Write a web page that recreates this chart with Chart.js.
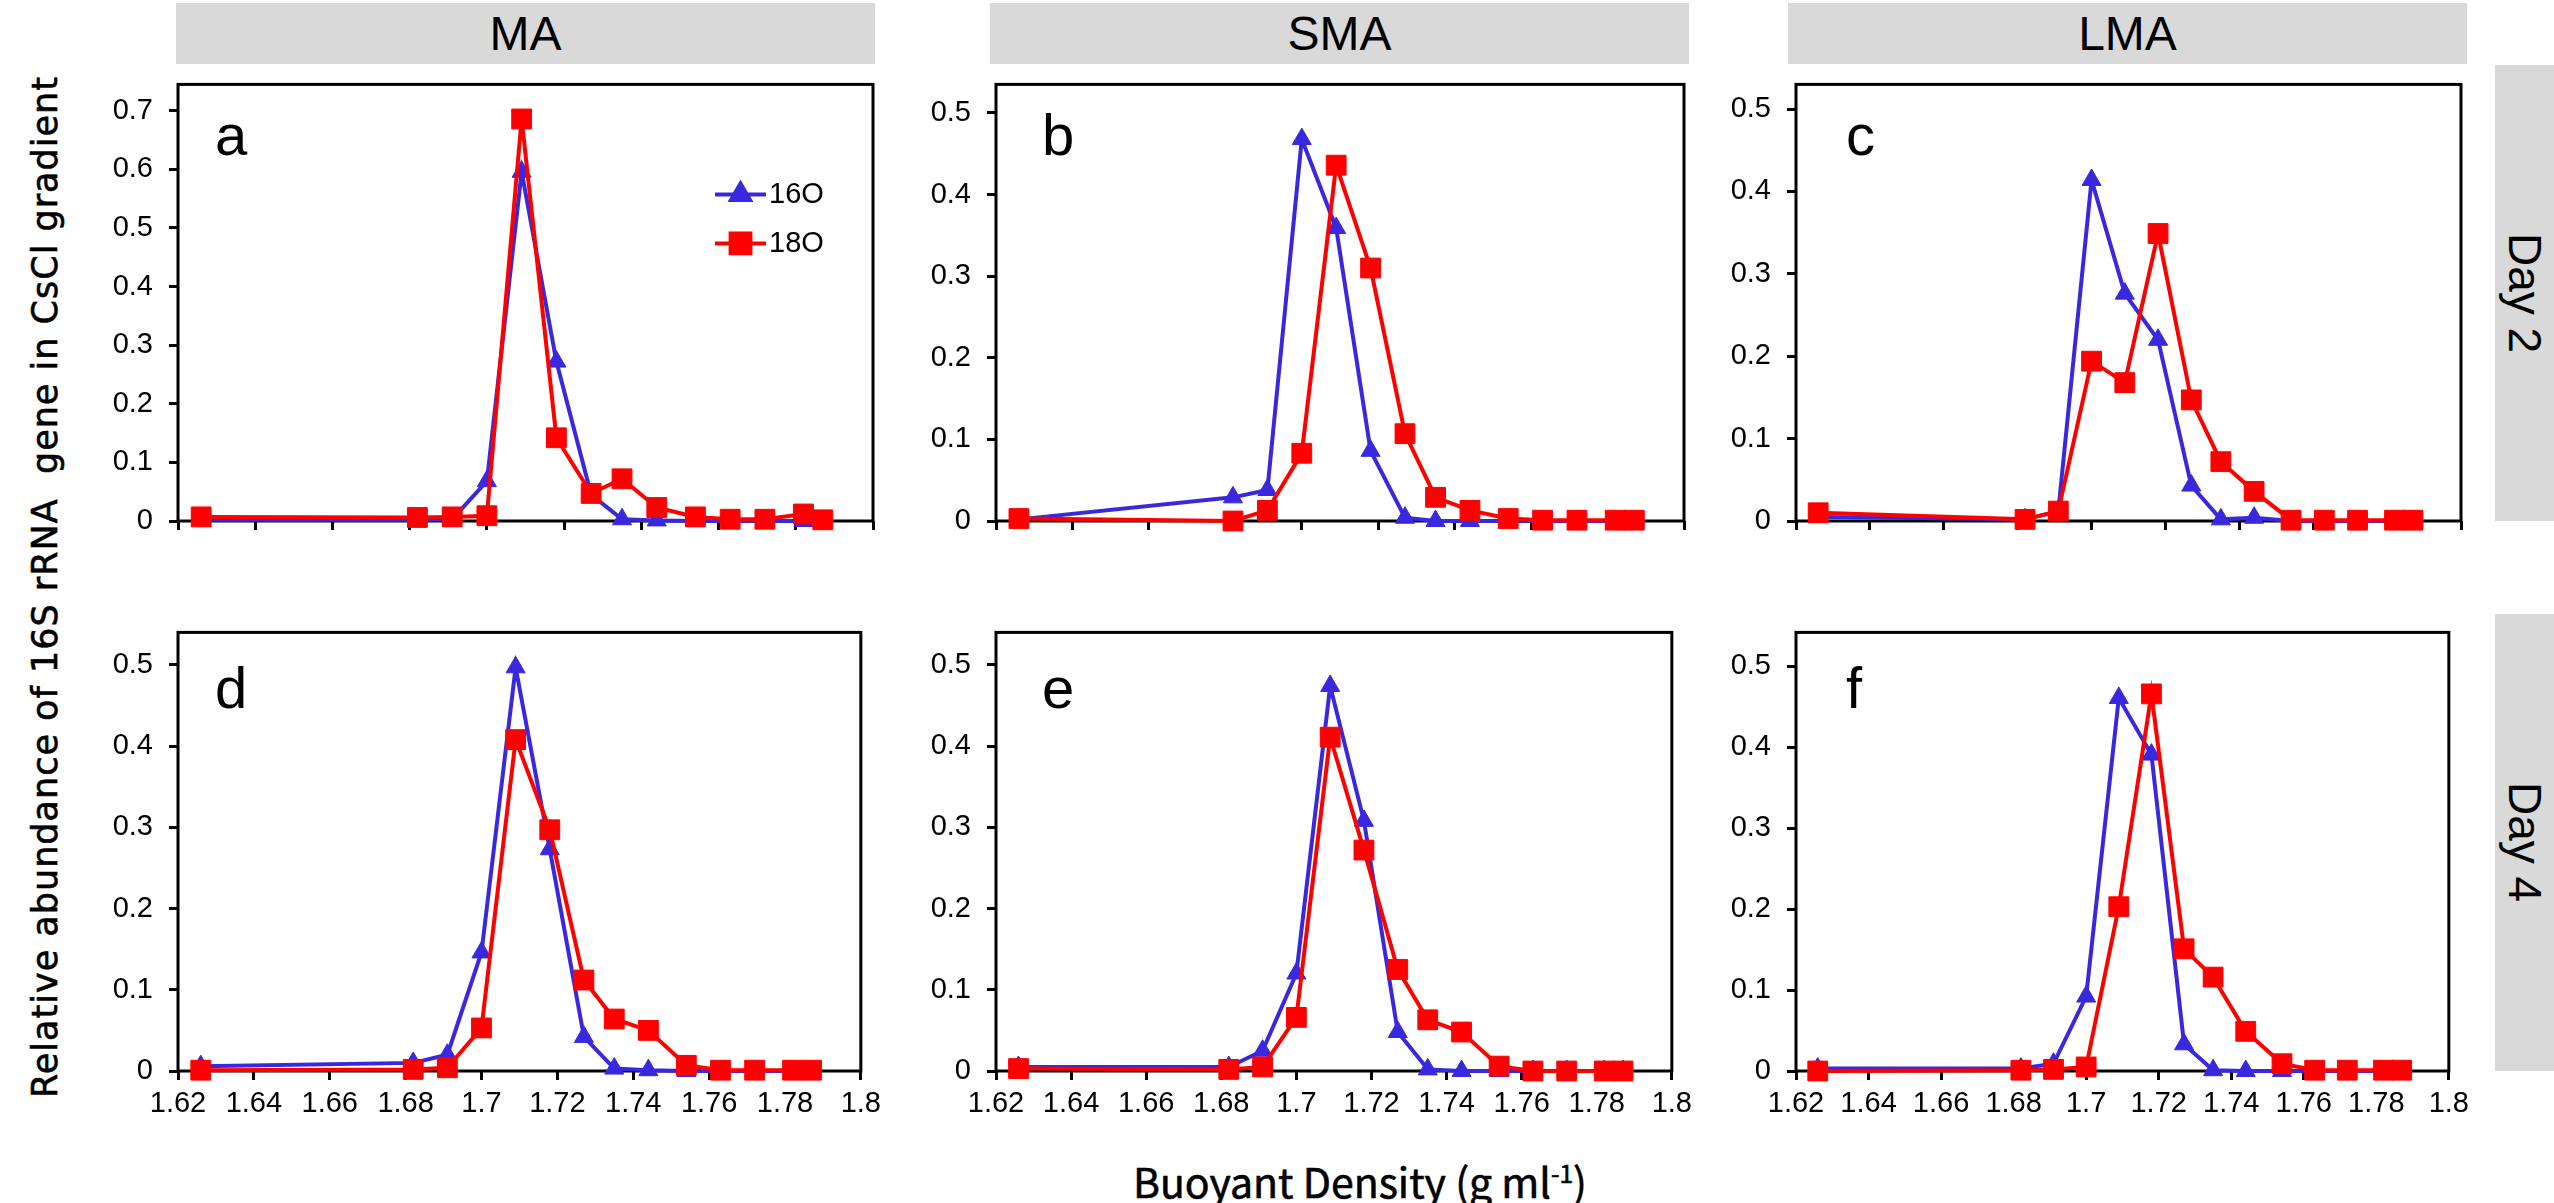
<!DOCTYPE html>
<html>
<head>
<meta charset="utf-8">
<script src="https://cdn.jsdelivr.net/npm/chart.js@4.4.1/dist/chart.umd.min.js"></script>
<style>
  body { margin: 0; background: #fff; width: 2554px; height: 1203px; position: relative; overflow: hidden; }
  canvas { position: absolute; }
  .head { position: absolute; top: 3px; height: 61px; background: #d9d9d9; display: flex; align-items: center; justify-content: center;
          font-family: "Liberation Sans", Arial, sans-serif; font-size: 48px; color: #000; }
  .day { position: absolute; left: 2495px; width: 59px; background: #d9d9d9; display: flex; align-items: center; justify-content: center;
         font-family: "Liberation Sans", Arial, sans-serif; font-size: 46px; color: #000; writing-mode: vertical-rl; }
  #ytitle { position: absolute; left: 45px; top: 587px; transform: translate(-50%, -50%) rotate(-90deg); white-space: pre;
            font-family: "DejaVu Sans", Verdana, sans-serif; font-size: 35px; letter-spacing: 1px; color: #000;
            -webkit-text-stroke: 0.6px #000; }
  #xtitle { position: absolute; left: 1360px; top: 1180px; transform: translate(-50%, -50%); white-space: pre;
            font-family: "Noto Sans CJK SC", "Noto Sans", sans-serif; font-size: 41px; color: #000;
            -webkit-text-stroke: 0.6px #000; }
  #xtitle sup { font-size: 60%; }
</style>
</head>
<body>
<div class="head" style="left:176px;width:699px">MA</div>
<div class="head" style="left:990px;width:699px">SMA</div>
<div class="head" style="left:1788px;width:679px">LMA</div>
<div class="day" style="top:65px;height:456px">Day 2</div>
<div class="day" style="top:614px;height:457px">Day 4</div>
<div id="ytitle">Relative abundance of 16S rRNA  gene in CsCl gradient</div>
<div id="xtitle">Buoyant Density (g ml<sup>-1</sup>)</div>

<script>
"use strict"

// buoyant density of each fraction (g/ml)
const densities = [1.626, 1.682, 1.691, 1.7, 1.709, 1.718, 1.727, 1.735, 1.744, 1.754, 1.763, 1.772, 1.782, 1.787];

// tick labels
const xTicks = [1.62, 1.64, 1.66, 1.68, 1.7, 1.72, 1.74, 1.76, 1.78, 1.8];
const yTicksMA2 = [0, 0.1, 0.2, 0.3, 0.4, 0.5, 0.6, 0.7];
const yTicksOther = [0, 0.1, 0.2, 0.3, 0.4, 0.5];

const seriesNames = ["16O", "18O"];
const panelLetters = ["a", "b", "c", "d", "e", "f"];

// Day 2
const ma2_16O = [0.002, 0.002, 0.003, 0.068, 0.596, 0.272, 0.045, 0.003, 0.001, 0, 0, 0, 0, 0];
const ma2_18O = [0.007, 0.006, 0.007, 0.009, 0.686, 0.142, 0.047, 0.072, 0.023, 0.007, 0.003, 0.003, 0.012, 0.002];
const sma2_16O = [0.002, 0.029, 0.038, 0.468, 0.359, 0.086, 0.004, 0, 0, 0, 0, 0, 0, 0];
const sma2_18O = [0.003, 0, 0.013, 0.083, 0.436, 0.31, 0.107, 0.029, 0.013, 0.003, 0.001, 0.001, 0.001, 0.001];
const lma2_16O = [0.005, 0.002, 0.012, 0.414, 0.276, 0.22, 0.043, 0.002, 0.004, 0, 0, 0, 0, 0];
const lma2_18O = [0.01, 0.002, 0.012, 0.194, 0.168, 0.349, 0.147, 0.072, 0.036, 0.001, 0.001, 0.001, 0.001, 0.001];

// Day 4
const ma4_16O = [0.006, 0.01, 0.02, 0.146, 0.497, 0.273, 0.042, 0.003, 0.001, 0, 0, 0, 0, 0];
const ma4_18O = [0.001, 0.002, 0.004, 0.053, 0.408, 0.297, 0.112, 0.064, 0.05, 0.007, 0.001, 0.001, 0.001, 0.001];
const sma4_16O = [0.005, 0.005, 0.025, 0.12, 0.474, 0.308, 0.048, 0.002, 0, 0, 0, 0, 0, 0];
const sma4_18O = [0.003, 0.002, 0.005, 0.066, 0.411, 0.272, 0.125, 0.063, 0.048, 0.006, 0, 0, 0, 0];
const lma4_16O = [0.003, 0.003, 0.009, 0.092, 0.461, 0.391, 0.033, 0.001, 0, 0, 0, 0, 0, 0];
const lma4_18O = [0, 0.001, 0.002, 0.005, 0.203, 0.466, 0.151, 0.116, 0.049, 0.009, 0.001, 0.001, 0.001, 0.001];

const blue = "rgb(58,40,222)";
const red = "rgb(255,0,0)";

// plot area of each column / row in page pixels
const colLeft = [178, 996, 1796];
const colRight = [874, 1685, 2462];
const rowTop = [65, 613];
const rowBottom = [521, 1071];
const yAxisW = 90, padTop = 14, padRight = 14, xAxisH = 60;

const panels = [
    { s16: ma2_16O, s18: ma2_18O, yMax: 0.745, yTicks: yTicksMA2, col: 0, row: 0 },
    { s16: sma2_16O, s18: sma2_18O, yMax: 0.535, yTicks: yTicksOther, col: 1, row: 0 },
    { s16: lma2_16O, s18: lma2_18O, yMax: 0.53, yTicks: yTicksOther, col: 2, row: 0 },
    { s16: ma4_16O, s18: ma4_18O, yMax: 0.54, yTicks: yTicksOther, col: 0, row: 1 },
    { s16: sma4_16O, s18: sma4_18O, yMax: 0.54, yTicks: yTicksOther, col: 1, row: 1 },
    { s16: lma4_16O, s18: lma4_18O, yMax: 0.542, yTicks: yTicksOther, col: 2, row: 1 },
];
const letterDx = [37, 46, 50];
const letterDy = [71, 76];

function toPoints(values) {
    return values.map((v, i) => ({ x: densities[i], y: v }));
}

// frame round the plot area + panel letter (+ legend on the first panel)
const framePlugin = {
    id: "frame",
    beforeDatasetsDraw(chart, args, opts) {
        const a = chart.chartArea, ctx = chart.ctx;
        ctx.save();
        ctx.strokeStyle = "#000";
        ctx.lineWidth = 3;
        ctx.strokeRect(a.left, a.top, a.right - a.left, a.bottom - a.top);
        ctx.fillStyle = "#000";
        ctx.font = "58px 'Liberation Sans', Arial, sans-serif";
        ctx.textBaseline = "alphabetic";
        ctx.fillText(opts.letter, a.left + opts.dx, a.top + opts.dy);
        ctx.restore();
    },
    afterDatasetsDraw(chart, args, opts) {
        if (!opts.legend) return;
        const a = chart.chartArea, ctx = chart.ctx;
        ctx.save();
        chart.data.datasets.forEach((ds, i) => {
            const y = a.top + 110 + i * 49;
            const x0 = a.left + 537, x1 = a.left + 588;
            ctx.strokeStyle = ds.borderColor;
            ctx.lineWidth = 4;
            ctx.beginPath();
            ctx.moveTo(x0, y);
            ctx.lineTo(x1, y);
            ctx.stroke();
            ctx.fillStyle = ds.pointBackgroundColor;
            ctx.strokeStyle = ds.pointBackgroundColor;
            Chart.helpers.drawPoint(ctx, { pointStyle: ds.pointStyle, radius: ds.pointRadius, borderWidth: 1 }, (x0 + x1) / 2, y);
            ctx.fillStyle = "#000";
            ctx.font = "29px 'Liberation Sans', Arial, sans-serif";
            ctx.textBaseline = "middle";
            ctx.fillText(ds.label, x1 + 3, y + 1);
        });
        ctx.restore();
    }
};

panels.forEach((p, idx) => {
    const left = colLeft[p.col], right = colRight[p.col];
    const top = rowTop[p.row], bottom = rowBottom[p.row];
    const canvas = document.createElement("canvas");
    const w = (right - left) + yAxisW + padRight;
    const h = (bottom - top) + padTop + xAxisH;
    canvas.width = w;
    canvas.height = h;
    canvas.style.left = (left - yAxisW) + "px";
    canvas.style.top = (top - padTop) + "px";
    document.body.appendChild(canvas);

    const showXLabels = p.row === 1;

    new Chart(canvas.getContext("2d"), {
        type: "line",
        data: {
            datasets: [
                {
                    label: seriesNames[0], data: toPoints(p.s16), order: 2,
                    borderColor: blue, borderWidth: 4, pointStyle: "triangle", pointRadius: 11,
                    pointBackgroundColor: blue, pointBorderColor: blue, pointBorderWidth: 1,
                    tension: 0, clip: false
                },
                {
                    label: seriesNames[1], data: toPoints(p.s18), order: 1,
                    borderColor: red, borderWidth: 4, pointStyle: "rect", pointRadius: 14,
                    pointBackgroundColor: red, pointBorderColor: red, pointBorderWidth: 1,
                    tension: 0, clip: false
                }
            ]
        },
        options: {
            responsive: false,
            animation: false,
            devicePixelRatio: 1,
            layout: { padding: { top: padTop, right: padRight, left: 0, bottom: 0 } },
            plugins: {
                legend: { display: false },
                tooltip: { enabled: false },
                frame: { letter: panelLetters[idx], dx: letterDx[p.col], dy: letterDy[p.row], legend: idx === 0 }
            },
            scales: {
                x: {
                    type: "linear", min: 1.62, max: 1.8,
                    afterBuildTicks: (scale) => { scale.ticks = xTicks.map(v => ({ value: v })); },
                    afterFit: (scale) => { scale.height = xAxisH; },
                    grid: { display: true, drawOnChartArea: false, drawTicks: true, tickLength: 9, color: "#000", lineWidth: 3 },
                    border: { display: false },
                    ticks: {
                        display: showXLabels, maxRotation: 0, autoSkip: false, padding: 7,
                        color: "#000", font: { family: "'Liberation Sans', Arial, sans-serif", size: 29 },
                        callback: (v) => String(+Number(v).toFixed(2))
                    }
                },
                y: {
                    type: "linear", min: 0, max: p.yMax,
                    afterBuildTicks: (scale) => { scale.ticks = p.yTicks.map(v => ({ value: v })); },
                    afterFit: (scale) => { scale.width = yAxisW; },
                    grid: { display: true, drawOnChartArea: false, drawTicks: true, tickLength: 9, color: "#000", lineWidth: 3 },
                    border: { display: false },
                    ticks: {
                        padding: 16, autoSkip: false,
                        color: "#000", font: { family: "'Liberation Sans', Arial, sans-serif", size: 29 },
                        callback: (v) => String(+Number(v).toFixed(1))
                    }
                }
            }
        },
        plugins: [framePlugin]
    });
});
</script>
</body>
</html>
